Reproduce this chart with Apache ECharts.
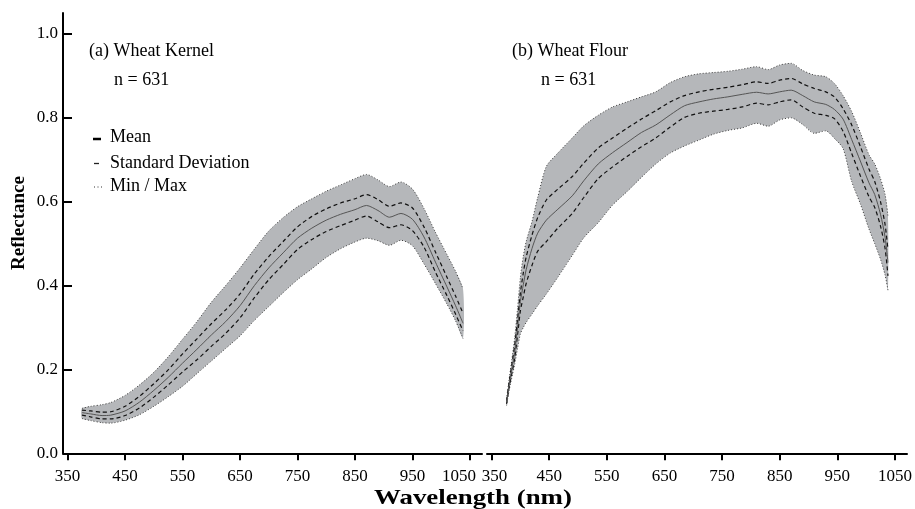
<!DOCTYPE html>
<html>
<head>
<meta charset="utf-8">
<script src="https://cdn.jsdelivr.net/npm/echarts@6.0.0/dist/echarts.min.js"></script>
<style>
  html, body { margin: 0; padding: 0; background: #fff; }
  #chart { width: 915px; height: 509px; }
</style>
</head>
<body>
<div id="chart"></div>
<script>
// tick labels
const xTicks = [350, 450, 550, 650, 750, 850, 950, 1050];
const yTicks = [0, 0.2, 0.4, 0.6, 0.8, 1.0];

// (a) wheat kernel
const kernelWave = [375, 390, 410, 425, 450, 475, 500, 525, 550, 575, 600, 625, 650, 675, 700, 725, 750, 775, 800, 825, 850, 870, 890, 910, 930, 950, 970, 990, 1010, 1025, 1038];
const kernelMax  = [0.107, 0.112, 0.116, 0.121, 0.138, 0.163, 0.193, 0.230, 0.272, 0.314, 0.360, 0.400, 0.442, 0.487, 0.530, 0.562, 0.588, 0.607, 0.625, 0.640, 0.655, 0.665, 0.652, 0.636, 0.647, 0.630, 0.584, 0.527, 0.474, 0.434, 0.392];
const kernelSdHi = [0.103, 0.101, 0.098, 0.099, 0.112, 0.136, 0.166, 0.199, 0.237, 0.273, 0.309, 0.342, 0.380, 0.428, 0.469, 0.505, 0.540, 0.565, 0.583, 0.597, 0.607, 0.617, 0.605, 0.589, 0.597, 0.585, 0.540, 0.480, 0.420, 0.375, 0.334];
const kernelMean = [0.097, 0.094, 0.090, 0.091, 0.101, 0.122, 0.150, 0.181, 0.215, 0.248, 0.282, 0.314, 0.352, 0.400, 0.442, 0.478, 0.513, 0.537, 0.556, 0.570, 0.581, 0.591, 0.579, 0.563, 0.572, 0.558, 0.516, 0.456, 0.397, 0.352, 0.310];
const kernelSdLo = [0.091, 0.087, 0.082, 0.082, 0.090, 0.108, 0.134, 0.163, 0.194, 0.223, 0.255, 0.286, 0.323, 0.371, 0.414, 0.450, 0.486, 0.510, 0.529, 0.543, 0.556, 0.566, 0.552, 0.538, 0.545, 0.531, 0.492, 0.432, 0.376, 0.332, 0.292];
const kernelMin  = [0.083, 0.078, 0.073, 0.072, 0.079, 0.092, 0.112, 0.135, 0.160, 0.190, 0.220, 0.250, 0.280, 0.317, 0.350, 0.383, 0.414, 0.440, 0.467, 0.488, 0.504, 0.513, 0.507, 0.496, 0.508, 0.495, 0.452, 0.405, 0.356, 0.316, 0.274];

// (b) wheat flour
const flourWave = [376, 380, 385, 390, 395, 400, 405, 410, 420, 430, 445, 465, 490, 510, 535, 560, 585, 610, 635, 660, 685, 710, 735, 760, 785, 810, 830, 850, 870, 890, 910, 930, 945, 960, 975, 990, 1005, 1015, 1025, 1033, 1038];
const flourMax  = [0.130, 0.172, 0.222, 0.275, 0.345, 0.420, 0.470, 0.505, 0.552, 0.610, 0.684, 0.716, 0.752, 0.781, 0.806, 0.826, 0.838, 0.850, 0.862, 0.884, 0.898, 0.905, 0.908, 0.911, 0.916, 0.922, 0.915, 0.926, 0.930, 0.913, 0.902, 0.898, 0.882, 0.853, 0.815, 0.765, 0.712, 0.690, 0.655, 0.617, 0.565];
const flourSdHi = [0.126, 0.166, 0.211, 0.256, 0.318, 0.383, 0.430, 0.468, 0.520, 0.562, 0.604, 0.630, 0.660, 0.692, 0.728, 0.752, 0.775, 0.797, 0.817, 0.838, 0.853, 0.862, 0.868, 0.873, 0.879, 0.886, 0.882, 0.890, 0.894, 0.881, 0.870, 0.862, 0.850, 0.822, 0.783, 0.732, 0.678, 0.648, 0.600, 0.545, 0.485];
const flourMean = [0.122, 0.160, 0.200, 0.240, 0.300, 0.362, 0.402, 0.438, 0.488, 0.525, 0.556, 0.582, 0.614, 0.650, 0.690, 0.717, 0.741, 0.765, 0.783, 0.807, 0.829, 0.838, 0.845, 0.850, 0.856, 0.861, 0.857, 0.862, 0.866, 0.853, 0.838, 0.832, 0.820, 0.797, 0.748, 0.697, 0.645, 0.617, 0.570, 0.515, 0.455];
const flourSdLo = [0.118, 0.154, 0.190, 0.226, 0.282, 0.340, 0.373, 0.405, 0.448, 0.482, 0.505, 0.537, 0.572, 0.610, 0.655, 0.683, 0.708, 0.731, 0.752, 0.778, 0.801, 0.811, 0.816, 0.820, 0.826, 0.835, 0.831, 0.838, 0.843, 0.826, 0.811, 0.806, 0.798, 0.768, 0.715, 0.662, 0.612, 0.586, 0.542, 0.488, 0.423];
const flourMin  = [0.114, 0.147, 0.180, 0.212, 0.250, 0.285, 0.300, 0.312, 0.332, 0.352, 0.380, 0.420, 0.472, 0.514, 0.550, 0.592, 0.624, 0.658, 0.690, 0.716, 0.733, 0.747, 0.761, 0.770, 0.776, 0.787, 0.780, 0.795, 0.800, 0.784, 0.763, 0.769, 0.751, 0.727, 0.648, 0.595, 0.535, 0.500, 0.463, 0.425, 0.389];

const serif = "'Liberation Serif', 'DejaVu Serif', serif";
const bandColor = "#b5b7ba";
const smoothing = 0.25;

function pairs(w, v) {
  return w.map((x, i) => [x, v[i]]);
}

// min-max band as one polygon, positioned through the axes
function bandSeries(idx, w, mx, mn) {
  return {
    type: "custom",
    xAxisIndex: idx,
    yAxisIndex: idx,
    silent: true,
    z: 2,
    encode: { x: 0, y: [1, 2] },
    data: w.map((x, i) => [x, mx[i], mn[i]]),
    renderItem: function (params, api) {
      if (params.dataIndex !== 0) return null;
      const top = w.map((x, i) => api.coord([x, mx[i]]));
      const bottom = w.map((x, i) => api.coord([x, mn[i]])).reverse();
      return {
        type: "polygon",
        shape: { points: top.concat(bottom), smooth: smoothing },
        style: { fill: bandColor, stroke: null },
      };
    },
  };
}

function panelSeries(idx, w, mx, hi, mean, lo, mn) {
  const common = { type: "line", xAxisIndex: idx, yAxisIndex: idx, symbol: "none", smooth: smoothing, silent: true };
  return [
    bandSeries(idx, w, mx, mn),
    Object.assign({}, common, {
      data: pairs(w, mx),
      lineStyle: { color: "#3a3a3a", width: 1, type: [1, 2] },
      z: 4,
    }),
    Object.assign({}, common, {
      data: pairs(w, mn),
      lineStyle: { color: "#3a3a3a", width: 1, type: [1, 2] },
      z: 4,
    }),
    Object.assign({}, common, {
      data: pairs(w, hi),
      lineStyle: { color: "#111", width: 1.2, type: [4, 3] },
      z: 5,
    }),
    Object.assign({}, common, {
      data: pairs(w, lo),
      lineStyle: { color: "#111", width: 1.2, type: [4, 3] },
      z: 5,
    }),
    Object.assign({}, common, {
      data: pairs(w, mean),
      lineStyle: { color: "#555", width: 1 },
      z: 6,
    }),
  ];
}

const tickFont = { fontFamily: serif, fontSize: 17, color: "#000" };

function xAxisFor(idx) {
  // the two edge labels where the panels meet are nudged apart
  const nudged = idx === 0 ? 1050 : 350;
  return {
    gridIndex: idx,
    type: "value",
    min: 342,
    max: 1071,
    z: 10,
    axisLine: { show: true, onZero: false, lineStyle: { color: "#000", width: 2 } },
    axisTick: { show: true, length: 7, customValues: xTicks, lineStyle: { color: "#000", width: 2 } },
    axisLabel: Object.assign({
      customValues: xTicks,
      formatter: (v) => (v === nudged ? "{n|" + v + "}" : String(v)),
      margin: 15,
      rich: {
        n: Object.assign({ padding: idx === 0 ? [0, 22, 0, 0] : [0, 0, 0, 6] }, tickFont),
      },
    }, tickFont),
    splitLine: { show: false },
  };
}

function yAxisFor(idx, visible) {
  return {
    gridIndex: idx,
    type: "value",
    min: 0,
    max: 1.05,
    show: visible,
    z: 10,
    axisLine: { show: true, onZero: false, lineStyle: { color: "#000", width: 2 } },
    axisTick: { show: true, inside: true, length: 9, customValues: yTicks, lineStyle: { color: "#000", width: 2 } },
    axisLabel: Object.assign({
      customValues: yTicks,
      formatter: (v) => v.toFixed(1),
      margin: 5,
    }, tickFont),
    splitLine: { show: false },
  };
}

function label(text, x, y, size) {
  return {
    type: "text",
    x: x,
    y: y,
    z: 20,
    style: {
      text: text,
      font: size + "px " + serif,
      fill: "#000",
      align: "left",
      textAlign: "left",
      verticalAlign: "middle",
      textVerticalAlign: "middle",
    },
  };
}

const chart = echarts.init(document.getElementById("chart"));
const option = {
  backgroundColor: "#fff",
  animation: false,
  grid: [
    { left: 63, top: 13, width: 419, height: 440.3 },
    { left: 487, top: 13, width: 420, height: 440.3 },
  ],
  xAxis: [xAxisFor(0), xAxisFor(1)],
  yAxis: [yAxisFor(0, true), yAxisFor(1, false)],
  series: [].concat(
    panelSeries(0, kernelWave, kernelMax, kernelSdHi, kernelMean, kernelSdLo, kernelMin),
    panelSeries(1, flourWave, flourMax, flourSdHi, flourMean, flourSdLo, flourMin)
  ),
  graphic: [
    label("(a) Wheat Kernel", 89, 51, 18),
    label("n = 631", 114, 80, 18),
    label("(b) Wheat Flour", 512, 51, 18),
    label("n = 631", 541, 80, 18),
    label("Mean", 110, 137, 18),
    label("Standard Deviation", 110, 163, 18),
    label("Min / Max", 110, 186, 18),
    { type: "line", z: 20, shape: { x1: 93, y1: 139, x2: 101, y2: 139 }, style: { stroke: "#000", lineWidth: 2.5 } },
    { type: "line", z: 20, shape: { x1: 94, y1: 163.5, x2: 99, y2: 163.5 }, style: { stroke: "#222", lineWidth: 1.3 } },
    { type: "line", z: 20, shape: { x1: 94, y1: 187, x2: 104, y2: 187 }, style: { stroke: "#333", lineWidth: 1, lineDash: [1, 2.5] } },
    {
      type: "text",
      x: 19,
      y: 223,
      rotation: Math.PI / 2,
      z: 20,
      style: {
        text: "Reflectance",
        font: "bold 19px " + serif,
        fill: "#000",
        align: "center",
        textAlign: "center",
        verticalAlign: "middle",
        textVerticalAlign: "middle",
      },
    },
    {
      type: "text",
      x: 473,
      y: 499,
      scaleX: 1.28,
      z: 20,
      style: {
        text: "Wavelength (nm)",
        font: "bold 21px " + serif,
        fill: "#000",
        align: "center",
        textAlign: "center",
        verticalAlign: "middle",
        textVerticalAlign: "middle",
      },
    },
  ],
};
chart.setOption(option);
</script>
</body>
</html>
